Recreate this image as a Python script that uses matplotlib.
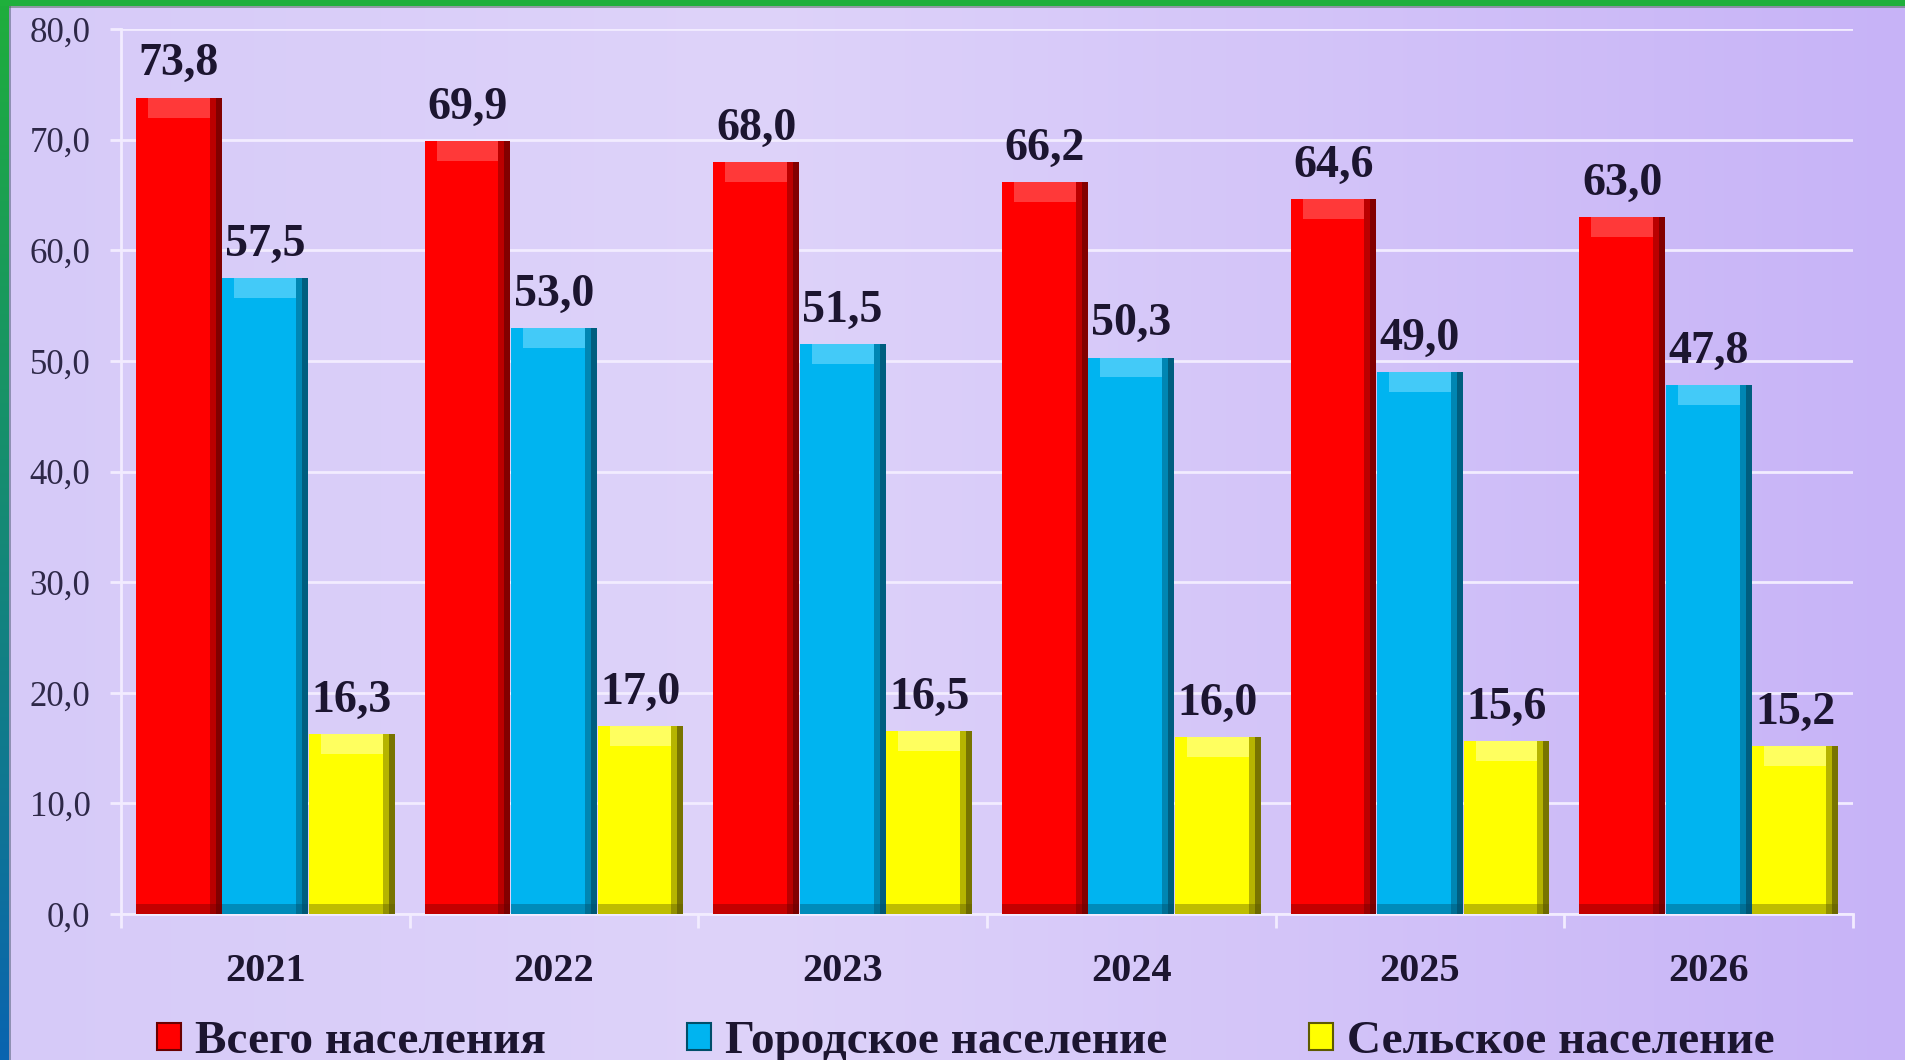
import numpy as np
import matplotlib
matplotlib.use('Agg')
import matplotlib.pyplot as plt
from matplotlib.patches import Patch, Rectangle
from matplotlib.colors import to_rgb

# ---------------- data ----------------
years = ['2021', '2022', '2023', '2024', '2025', '2026']
total = [73.8, 69.9, 68.0, 66.2, 64.6, 63.0]
urban = [57.5, 53.0, 51.5, 50.3, 49.0, 47.8]
rural = [16.3, 17.0, 16.5, 16.0, 15.6, 15.2]
series_names = ['Всего населения', 'Городское население', 'Сельское население']
yticks = [0, 10, 20, 30, 40, 50, 60, 70, 80]

# ---------------- style ----------------
W, H = 1905, 1060
SERIF = ['Liberation Serif', 'DejaVu Serif']
TXT = '#1c1530'
colors = ['#ff0000', '#00b4f0', '#ffff00']
dark = ['#6a0000', '#004e6a', '#5e5a00']
light = ['#ff6060', '#70daff', '#ffffa0']

fig = plt.figure(figsize=(W / 100, H / 100), dpi=100)

# background gradient
bg = fig.add_axes([0, 0, 1, 1], zorder=-10)
bg.set_axis_off()
xs = np.linspace(0, 1, 600)
stops_x = [0.0, 0.4, 1.0]
stops_c = [to_rgb('#d6caf8'), to_rgb('#ded3fa'), to_rgb('#c7b3f7')]
grad = np.zeros((2, len(xs), 3))
for k in range(3):
    grad[:, :, k] = np.interp(xs, stops_x, [c[k] for c in stops_c])
bg.imshow(grad, aspect='auto', extent=[0, 1, 0, 1], origin='lower')
# left border gradient (blue bottom -> green top)
ys = np.linspace(0, 1, 300)
lb = np.zeros((len(ys), 2, 3))
c0, c1 = to_rgb('#0a64b0'), to_rgb('#1fae3c')
for k in range(3):
    lb[:, :, k] = (c0[k] + (c1[k] - c0[k]) * ys)[:, None]
bg.imshow(lb, aspect='auto', extent=[0, 9 / W, 0, 1], origin='lower')
bg.add_patch(Rectangle((0, 1 - 6 / H), 1, 6 / H, color='#1fb03c', lw=0))
bg.add_patch(Rectangle((9 / W, 0), 1.5 / W, 1 - 6 / H, color='#4a5a70', lw=0, alpha=0.5))
bg.add_patch(Rectangle((9 / W, 1 - 7.5 / H), 1, 1.5 / H, color='#4a6a50', lw=0, alpha=0.5))
bg.set_xlim(0, 1)
bg.set_ylim(0, 1)

# main axes
ax = fig.add_axes([121 / W, 1 - 914 / H, (1853 - 121) / W, (914 - 29) / H])
ax.patch.set_alpha(0)

x = np.arange(len(years))
bw = 0.297
offs = [-0.3, 0.0, 0.3]
for vals, off, c, d, l in zip([total, urban, rural], offs, colors, dark, light):
    pos = x + off
    ax.bar(pos, vals, width=bw, color=c, zorder=3, lw=0)
    # right dark shading strips (graded)
    ax.bar(pos + bw / 2 - bw * 0.14, vals, width=bw * 0.14, align='edge',
           color=d, alpha=0.45, zorder=4, lw=0)
    ax.bar(pos + bw / 2 - bw * 0.07, vals, width=bw * 0.07, align='edge',
           color=d, alpha=0.7, zorder=4, lw=0)
    # bottom dark bevel
    ax.bar(pos, [0.9] * len(vals), width=bw, color=d, alpha=0.4, zorder=4, lw=0)
    # top light bevel
    ax.bar(pos, [1.8] * len(vals), bottom=np.array(vals) - 1.8, width=bw * 0.72,
           color=l, alpha=0.6, zorder=4, lw=0)
    for xi, v in zip(pos, vals):
        ax.annotate(f'{v:.1f}'.replace('.', ','), (xi, v), xytext=(0, 16),
                    textcoords='offset points', ha='center', va='baseline',
                    fontsize=33, fontweight='bold', family=SERIF, color=TXT,
                    zorder=5)

ax.set_xlim(-0.5, len(years) - 0.5)
ax.set_ylim(0, 80)
ax.set_yticks(yticks)
ax.set_yticklabels([f'{v:.1f}'.replace('.', ',') for v in yticks],
                   family=SERIF, fontsize=25, color='#2e2848')
ax.set_xticks(x)
ax.set_xticklabels(years, family=SERIF, fontsize=29, fontweight='bold', color=TXT)
ax.set_xticks(np.arange(-0.5, len(years)), minor=True)
ax.tick_params(axis='y', length=8, width=2, color='#f2ecff', pad=14)
ax.tick_params(axis='x', which='major', length=0, pad=28)
ax.tick_params(axis='x', which='minor', length=10, width=2, color='#f2ecff')
ax.grid(axis='y', color='#f2ecff', lw=2, zorder=0)
ax.set_axisbelow(True)
for s in ['top', 'right']:
    ax.spines[s].set_visible(False)
for s in ['left', 'bottom']:
    ax.spines[s].set_color('#f2ecff')
    ax.spines[s].set_linewidth(2)

handles = [Patch(facecolor=c, edgecolor=d, lw=1.5) for c, d in zip(colors, dark)]
fig.legend(handles, series_names, loc='center', bbox_to_anchor=(0.507, 0.017),
           ncol=3, frameon=False,
           prop={'family': SERIF, 'weight': 'bold', 'size': 34},
           handlelength=0.5, handleheight=0.5, handletextpad=0.3,
           columnspacing=3.0, labelcolor=TXT, borderaxespad=0, borderpad=0)

fig.savefig('out.png', dpi=100)
